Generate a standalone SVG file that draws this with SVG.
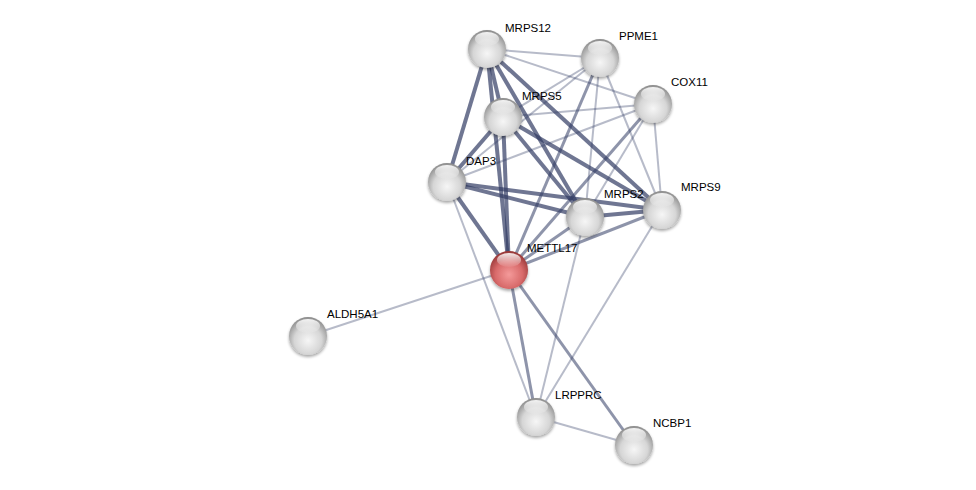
<svg xmlns="http://www.w3.org/2000/svg" width="976" height="490" viewBox="0 0 976 490">
<defs>
<radialGradient id="g" cx="0.5" cy="0.62" r="0.6">
<stop offset="0" stop-color="#f6f6f6"/>
<stop offset="0.6" stop-color="#d6d6d6"/>
<stop offset="1" stop-color="#8f8f8f"/>
</radialGradient>
<radialGradient id="r" cx="0.5" cy="0.62" r="0.6">
<stop offset="0" stop-color="#f49a9a"/>
<stop offset="0.6" stop-color="#d86a6a"/>
<stop offset="1" stop-color="#983838"/>
</radialGradient>
<linearGradient id="hl" x1="0" y1="0" x2="0" y2="1">
<stop offset="0" stop-color="#fff" stop-opacity="0.9"/>
<stop offset="1" stop-color="#fff" stop-opacity="0.05"/>
</linearGradient>
<filter id="sh" x="-30%" y="-30%" width="160%" height="170%">
<feGaussianBlur in="SourceAlpha" stdDeviation="1.5"/>
<feOffset dy="2"/>
<feComponentTransfer><feFuncA type="linear" slope="0.35"/></feComponentTransfer>
<feMerge><feMergeNode/><feMergeNode in="SourceGraphic"/></feMerge>
</filter>
</defs>
<style>
.e{stroke:#323c64;fill:none}
.t{stroke-width:4;stroke-opacity:0.7}
.m{stroke-width:3;stroke-opacity:0.55}
.l{stroke-width:2;stroke-opacity:0.35}
text{font-family:"Liberation Sans",Arial,sans-serif;font-size:11.5px;fill:#000}
</style>
<rect width="976" height="490" fill="#fff"/>
<g id="edges">
<line class="e l" x1="487" y1="49" x2="600" y2="58"/>
<line class="e l" x1="487" y1="49" x2="653" y2="104"/>
<line class="e t" x1="487" y1="49" x2="503" y2="117"/>
<line class="e t" x1="487" y1="49" x2="447" y2="182"/>
<line class="e t" x1="487" y1="49" x2="509" y2="270"/>
<line class="e t" x1="487" y1="49" x2="585" y2="217"/>
<line class="e t" x1="487" y1="49" x2="662" y2="210"/>
<line class="e l" x1="600" y1="58" x2="503" y2="117"/>
<line class="e l" x1="600" y1="58" x2="447" y2="182"/>
<line class="e m" x1="600" y1="58" x2="509" y2="270"/>
<line class="e l" x1="600" y1="58" x2="585" y2="217"/>
<line class="e l" x1="600" y1="58" x2="662" y2="210"/>
<line class="e l" x1="653" y1="104" x2="503" y2="117"/>
<line class="e l" x1="653" y1="104" x2="447" y2="182"/>
<line class="e m" x1="653" y1="104" x2="509" y2="270"/>
<line class="e l" x1="653" y1="104" x2="585" y2="217"/>
<line class="e l" x1="653" y1="104" x2="662" y2="210"/>
<line class="e t" x1="503" y1="117" x2="447" y2="182"/>
<line class="e t" x1="503" y1="117" x2="509" y2="270"/>
<line class="e t" x1="503" y1="117" x2="585" y2="217"/>
<line class="e t" x1="503" y1="117" x2="662" y2="210"/>
<line class="e t" x1="447" y1="182" x2="585" y2="217"/>
<line class="e t" x1="447" y1="182" x2="662" y2="210"/>
<line class="e t" x1="447" y1="182" x2="509" y2="270"/>
<line class="e l" x1="447" y1="182" x2="536" y2="417"/>
<line class="e t" x1="585" y1="217" x2="662" y2="210"/>
<line class="e m" x1="585" y1="217" x2="509" y2="270"/>
<line class="e l" x1="585" y1="217" x2="536" y2="417"/>
<line class="e m" x1="662" y1="210" x2="509" y2="270"/>
<line class="e l" x1="662" y1="210" x2="536" y2="417"/>
<line class="e l" x1="509" y1="270" x2="308" y2="336"/>
<line class="e m" x1="509" y1="270" x2="536" y2="417"/>
<line class="e m" x1="509" y1="270" x2="634" y2="445"/>
<line class="e l" x1="536" y1="417" x2="634" y2="445"/>
</g>
<g id="MRPS12" transform="translate(487,49)"><circle r="19" fill="url(#g)" filter="url(#sh)"/><ellipse cx="0" cy="-10" rx="12" ry="7" fill="url(#hl)"/><text x="18" y="-17">MRPS12</text></g>
<g id="PPME1" transform="translate(600,58)"><circle r="19" fill="url(#g)" filter="url(#sh)"/><ellipse cx="0" cy="-10" rx="12" ry="7" fill="url(#hl)"/><text x="19" y="-18">PPME1</text></g>
<g id="COX11" transform="translate(653,104)"><circle r="19" fill="url(#g)" filter="url(#sh)"/><ellipse cx="0" cy="-10" rx="12" ry="7" fill="url(#hl)"/><text x="18" y="-18">COX11</text></g>
<g id="MRPS5" transform="translate(503,117)"><circle r="19" fill="url(#g)" filter="url(#sh)"/><ellipse cx="0" cy="-10" rx="12" ry="7" fill="url(#hl)"/><text x="19" y="-17">MRPS5</text></g>
<g id="DAP3" transform="translate(447,182)"><circle r="19" fill="url(#g)" filter="url(#sh)"/><ellipse cx="0" cy="-10" rx="12" ry="7" fill="url(#hl)"/><text x="19" y="-17">DAP3</text></g>
<g id="MRPS2" transform="translate(585,217)"><circle r="19" fill="url(#g)" filter="url(#sh)"/><ellipse cx="0" cy="-10" rx="12" ry="7" fill="url(#hl)"/><text x="19" y="-19">MRPS2</text></g>
<g id="MRPS9" transform="translate(662,210)"><circle r="19" fill="url(#g)" filter="url(#sh)"/><ellipse cx="0" cy="-10" rx="12" ry="7" fill="url(#hl)"/><text x="19" y="-19">MRPS9</text></g>
<g id="METTL17" transform="translate(509,270)"><circle r="19" fill="url(#r)" filter="url(#sh)"/><ellipse cx="0" cy="-10" rx="12" ry="7" fill="url(#hl)"/><text x="18" y="-18">METTL17</text></g>
<g id="ALDH5A1" transform="translate(308,336)"><circle r="19" fill="url(#g)" filter="url(#sh)"/><ellipse cx="0" cy="-10" rx="12" ry="7" fill="url(#hl)"/><text x="19" y="-18">ALDH5A1</text></g>
<g id="LRPPRC" transform="translate(536,417)"><circle r="19" fill="url(#g)" filter="url(#sh)"/><ellipse cx="0" cy="-10" rx="12" ry="7" fill="url(#hl)"/><text x="19" y="-18">LRPPRC</text></g>
<g id="NCBP1" transform="translate(634,445)"><circle r="19" fill="url(#g)" filter="url(#sh)"/><ellipse cx="0" cy="-10" rx="12" ry="7" fill="url(#hl)"/><text x="19" y="-18">NCBP1</text></g>
</svg>
